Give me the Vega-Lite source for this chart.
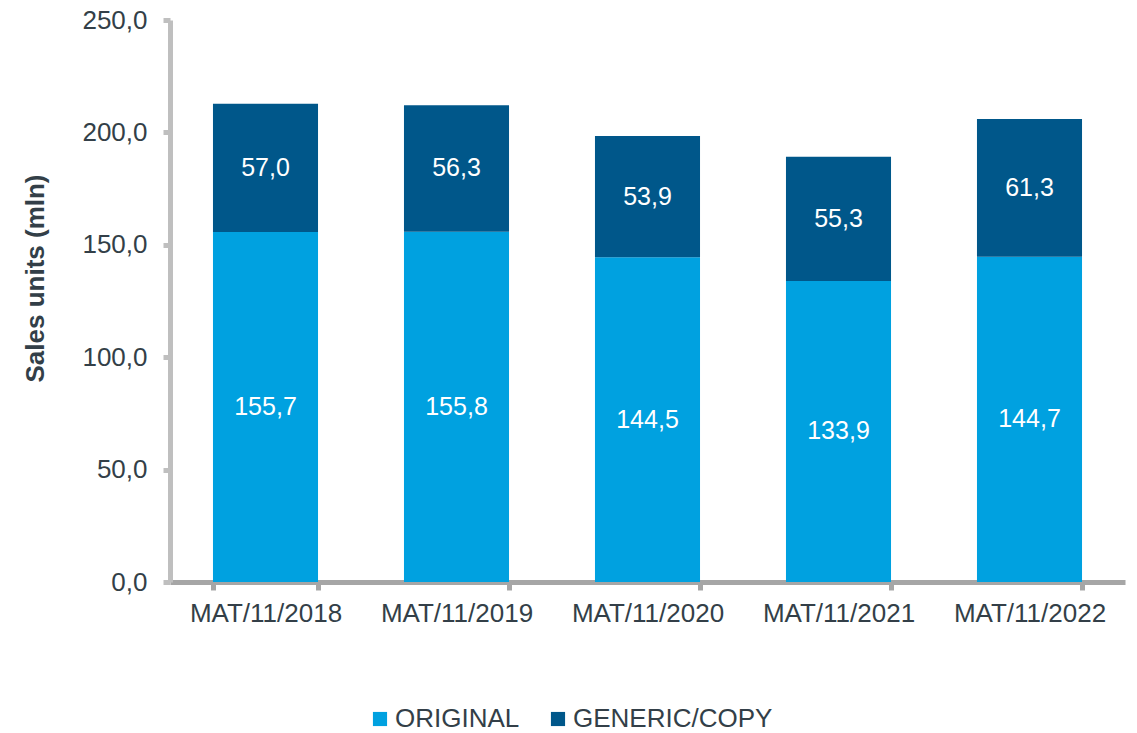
{
  "$schema": "https://vega.github.io/schema/vega-lite/v6.json",
  "width": 955,
  "height": 562,
  "autosize": {"type": "none"},
  "padding": {"left": 170, "top": 20, "right": 12, "bottom": 151},
  "background": "white",
  "config": {
    "locale": {"number": {"decimal": ",", "thousands": ".", "grouping": [3], "currency": ["", " €"]}},
    "view": {"stroke": null},
    "font": "Liberation Sans"
  },
  "data": {
    "values": [
      {"period": "MAT/11/2018", "series": "ORIGINAL", "value": 155.7},
      {"period": "MAT/11/2018", "series": "GENERIC/COPY", "value": 57.0},
      {"period": "MAT/11/2019", "series": "ORIGINAL", "value": 155.8},
      {"period": "MAT/11/2019", "series": "GENERIC/COPY", "value": 56.3},
      {"period": "MAT/11/2020", "series": "ORIGINAL", "value": 144.5},
      {"period": "MAT/11/2020", "series": "GENERIC/COPY", "value": 53.9},
      {"period": "MAT/11/2021", "series": "ORIGINAL", "value": 133.9},
      {"period": "MAT/11/2021", "series": "GENERIC/COPY", "value": 55.3},
      {"period": "MAT/11/2022", "series": "ORIGINAL", "value": 144.7},
      {"period": "MAT/11/2022", "series": "GENERIC/COPY", "value": 61.3}
    ]
  },
  "transform": [
    {"stack": "value", "groupby": ["period"], "sort": [{"field": "series", "order": "descending"}], "as": ["v0", "v1"]},
    {"calculate": "(datum.v0 + datum.v1) / 2", "as": "mid"}
  ],
  "encoding": {
    "x": {
      "field": "period",
      "type": "nominal",
      "sort": null,
      "title": null,
      "scale": {"paddingInner": 0.45, "paddingOuter": 0.225},
      "axis": {
        "labelAngle": 0,
        "labelFontSize": 26,
        "labelColor": "#333F48",
        "labelPadding": 10,
        "tickBand": "extent",
        "domainColor": "#A6A6A6",
        "domainWidth": 5,
        "tickColor": "#A6A6A6",
        "tickWidth": 5,
        "tickSize": 8,
        "grid": false
      }
    }
  },
  "layer": [
    {
      "mark": {"type": "bar"},
      "encoding": {
        "y": {
          "field": "v1",
          "type": "quantitative",
          "scale": {"domain": [0, 250], "nice": false},
          "title": "Sales units (mln)",
          "axis": {
            "values": [0, 50, 100, 150, 200, 250],
            "format": ".1f",
            "grid": false,
            "labelFontSize": 26,
            "labelColor": "#333F48",
            "labelPadding": 16,
            "domainColor": "#BFBFBF",
            "domainWidth": 5,
            "tickColor": "#BFBFBF",
            "tickWidth": 5,
            "tickSize": 7,
            "titleFontSize": 26,
            "titleFontWeight": "bold",
            "titleColor": "#333F48",
            "titleAngle": 270,
            "titleAlign": "center",
            "titleBaseline": "middle",
            "titleX": -135,
            "titleY": 258
          }
        },
        "y2": {"field": "v0"},
        "color": {
          "field": "series",
          "type": "nominal",
          "scale": {"domain": ["ORIGINAL", "GENERIC/COPY"], "range": ["#00A1E0", "#00578A"]},
          "legend": {
            "title": null,
            "orient": "none",
            "direction": "horizontal",
            "legendX": 197,
            "legendY": 686,
            "symbolType": "square",
            "symbolSize": 200,
            "symbolStrokeWidth": 0,
            "labelFontSize": 26,
            "labelLimit": 0,
            "labelColor": "#333F48",
            "labelOffset": 2,
            "columnPadding": 25,
            "padding": 0
          }
        }
      }
    },
    {
      "mark": {"type": "text", "color": "white", "fontSize": 25, "baseline": "middle", "align": "center"},
      "encoding": {
        "y": {"field": "mid", "type": "quantitative"},
        "text": {"field": "value", "type": "quantitative", "format": ".1f"}
      }
    }
  ]
}
